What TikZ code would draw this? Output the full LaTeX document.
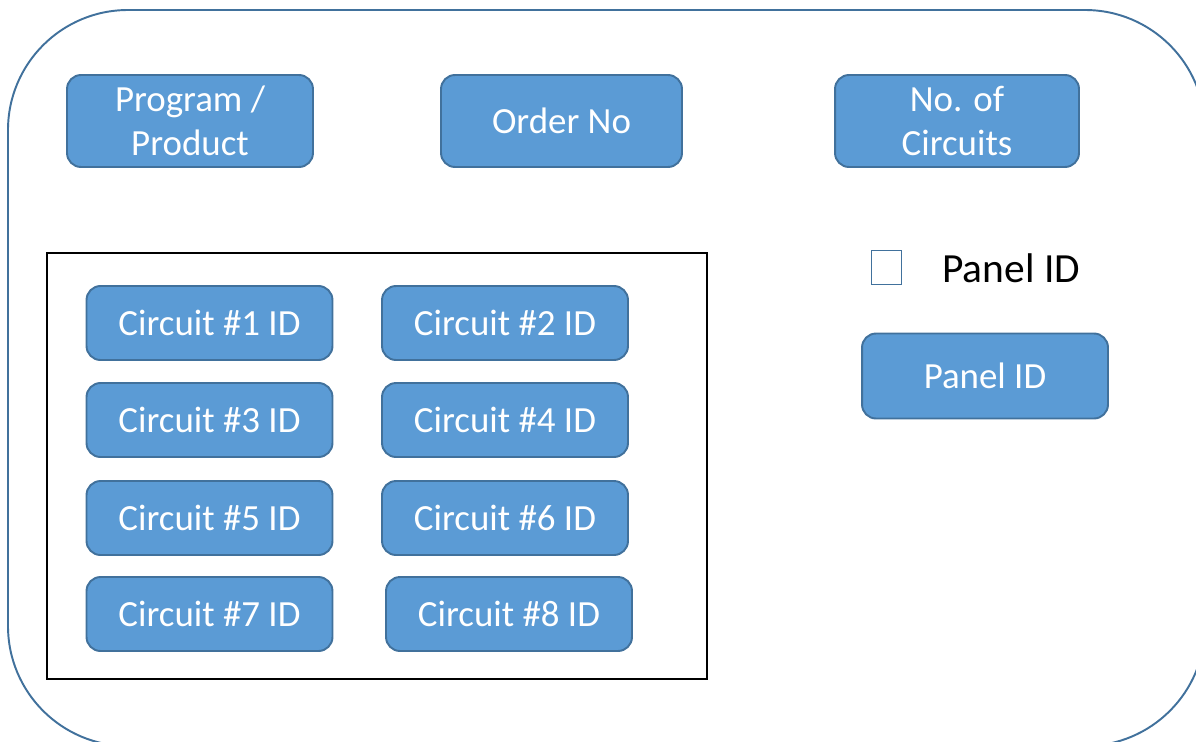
\documentclass[tikz,border=0pt]{standalone}
\usepackage{fontspec}
\setmainfont{Carlito}
\definecolor{boxfill}{HTML}{5B9BD5}
\definecolor{boxline}{HTML}{41719C}
\begin{document}
\begin{tikzpicture}[x=0.02cm,y=-0.02cm,
		field/.style={draw=boxline, fill=boxfill, line width=1.1pt, rounded corners=0.28cm,
			text=white, align=center, inner sep=0pt,
			font=\fontsize{21}{25}\selectfont, minimum width=4.92cm},
		topfield/.style={field, minimum height=1.84cm},
		circfield/.style={field, minimum height=1.48cm}]
	\useasboundingbox (0,0) rectangle (1196,741);
	\clip (0,0) rectangle (1196,741);
	
	\draw[boxline, line width=1.1pt, rounded corners=2.4cm] (8,10) rectangle (1205,746);
	
	\node[topfield] (prog) at (190,121) {Program /\\Product};
	\node[topfield, minimum width=4.82cm] (order) at (561.5,121) {Order No};
	\node[topfield, minimum width=4.88cm] (count) at (957,121) {No. of\\Circuits};
	
	\draw[line width=1.1pt] (47,253) rectangle (707,679);
	
	\node[circfield] (c1) at (209.5,323) {Circuit \#1 ID};
	\node[circfield] (c2) at (505,323) {Circuit \#2 ID};
	
	\node[circfield] (c3) at (209.5,420) {Circuit \#3 ID};
	\node[circfield] (c4) at (505,420) {Circuit \#4 ID};
	
	\node[circfield] (c5) at (209.5,518) {Circuit \#5 ID};
	\node[circfield] (c6) at (505,518) {Circuit \#6 ID};
	
	\node[circfield] (c7) at (209.5,614) {Circuit \#7 ID};
	\node[circfield] (c8) at (509,614) {Circuit \#8 ID};
	
	\node[draw=boxline, line width=1.1pt, minimum width=0.6cm, minimum height=0.68cm, inner sep=0pt] (check) at (886.5,267.5) {};
	\node[anchor=west, inner sep=0pt, font=\fontsize{23.6}{28}\selectfont] (paneltxt) at (942,268) {Panel ID};
	
	\node[circfield, minimum height=1.7cm] (panel) at (985,376) {Panel ID};
\end{tikzpicture}
\end{document}
